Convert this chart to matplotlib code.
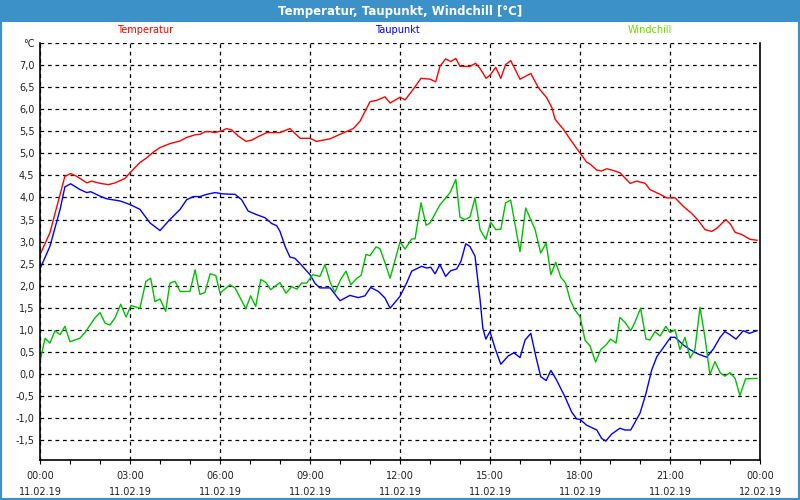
import matplotlib.pyplot as plt
from matplotlib.patches import Rectangle
from matplotlib.ticker import MultipleLocator

# Stunden ab 11.02.19 00:00
temp_h = [0, 0.33, 0.83, 1.02, 1.22, 1.56, 1.72, 2.0, 2.28, 2.5, 2.83, 3.0, 3.33, 3.56, 3.78, 4.0,
          4.33, 4.67, 4.89, 5.17, 5.33, 5.5, 5.67, 5.83, 6.06, 6.22, 6.39, 6.61, 6.87, 7.06, 7.28,
          7.56, 7.78, 8.0, 8.33, 8.67, 9.0, 9.22, 9.67, 10.0, 10.44, 10.67, 11.0, 11.22, 11.5,
          11.67, 12.0, 12.17, 12.44, 12.7, 13.0, 13.19, 13.33, 13.52, 13.69, 13.86, 14.0, 14.33,
          14.52, 14.67, 14.87, 15.0, 15.19, 15.36, 15.52, 15.69, 16.0, 16.36, 16.61, 16.89, 17.06,
          17.17, 17.44, 17.67, 17.89, 18.02, 18.22, 18.33, 18.56, 18.72, 18.89, 19.11, 19.33,
          19.67, 19.89, 20.17, 20.33, 20.67, 20.89, 21.17, 21.44, 21.72, 21.94, 22.17, 22.39,
          22.56, 22.86, 23.02, 23.17, 23.39, 23.67, 23.9]
temp = [2.70, 3.20, 4.48, 4.54, 4.48, 4.33, 4.37, 4.32, 4.29, 4.33, 4.43, 4.56, 4.79, 4.90, 5.03, 5.13,
        5.22, 5.28, 5.36, 5.42, 5.43, 5.49, 5.49, 5.47, 5.51, 5.56, 5.53, 5.39, 5.27, 5.30, 5.38,
        5.47, 5.47, 5.47, 5.56, 5.34, 5.34, 5.27, 5.33, 5.43, 5.56, 5.73, 6.17, 6.20, 6.28,
        6.14, 6.27, 6.21, 6.45, 6.70, 6.68, 6.62, 6.97, 7.14, 7.08, 7.15, 6.97, 6.97,
        7.04, 6.92, 6.70, 6.77, 6.95, 6.70, 7.01, 7.10, 6.68, 6.81, 6.49, 6.26, 6.04,
        5.77, 5.55, 5.32, 5.11, 4.99, 4.80, 4.76, 4.62, 4.60, 4.65, 4.61, 4.56,
        4.32, 4.37, 4.32, 4.18, 4.07, 3.99, 3.99, 3.80, 3.64, 3.48, 3.27, 3.23,
        3.30, 3.50, 3.39, 3.21, 3.16, 3.05, 3.03]

taup_h = [0, 0.33, 0.67, 0.83, 1.02, 1.33, 1.56, 1.69, 2.0, 2.22, 2.67, 3.0, 3.33, 3.67, 4.0, 4.33,
          4.67, 4.89, 5.11, 5.33, 5.56, 5.83, 6.11, 6.5, 6.72, 6.94, 7.22, 7.5, 7.72, 7.89, 8.0,
          8.17, 8.33, 8.5, 8.67, 9.0, 9.17, 9.33, 9.67, 10.0, 10.33, 10.61, 10.83, 11.02, 11.28,
          11.5, 11.67, 12.0, 12.22, 12.39, 12.72, 12.89, 13.02, 13.17, 13.33, 13.52, 13.69, 13.89,
          14.03, 14.19, 14.33, 14.5, 14.67, 14.76, 14.86, 15.0, 15.17, 15.36, 15.61, 15.8, 16.0,
          16.17, 16.36, 16.53, 16.69, 16.87, 17.03, 17.22, 17.5, 17.72, 17.89, 18.0, 18.22, 18.56,
          18.72, 18.86, 19.06, 19.33, 19.5, 19.69, 20.0, 20.2, 20.39, 20.56, 20.78, 21.02, 21.17,
          21.44, 21.67, 21.94, 22.22, 22.44, 22.67, 22.83, 23.0, 23.2, 23.44, 23.64, 23.9]
taup = [2.38, 2.89, 3.73, 4.24, 4.31, 4.18, 4.11, 4.13, 4.03, 3.97, 3.92, 3.84, 3.73, 3.42, 3.25, 3.50,
        3.73, 3.95, 4.02, 4.02, 4.07, 4.11, 4.08, 4.07, 3.95, 3.69, 3.61, 3.54, 3.41, 3.36, 3.23,
        2.89, 2.65, 2.62, 2.50, 2.25, 2.05, 1.95, 1.95, 1.66, 1.78, 1.73, 1.77, 1.96, 1.87,
        1.72, 1.49, 1.76, 2.06, 2.33, 2.44, 2.40, 2.42, 2.27, 2.48, 2.21, 2.34, 2.38,
        2.55, 2.95, 2.89, 2.67, 1.68, 1.04, 0.79, 0.96, 0.58, 0.22, 0.41, 0.48, 0.37,
        0.77, 0.92, 0.39, -0.06, -0.15, 0.08, -0.14, -0.52, -0.86, -1.02, -1.03, -1.16, -1.27,
        -1.46, -1.52, -1.36, -1.23, -1.27, -1.27, -0.89, -0.44, 0.09, 0.39, 0.60, 0.83, 0.83,
        0.66, 0.55, 0.45, 0.38, 0.56, 0.83, 0.96, 0.89, 0.79, 0.98, 0.92, 0.98]

wind_h = [0, 0.17, 0.33, 0.5, 0.67, 0.83, 1.0, 1.33, 1.5, 1.83, 2.0, 2.17, 2.33, 2.5, 2.69, 2.87,
          3.03, 3.33, 3.53, 3.69, 3.83, 4.0, 4.19, 4.33, 4.5, 4.67, 5.0, 5.17, 5.33, 5.5, 5.67,
          5.86, 6.0, 6.33, 6.5, 6.86, 7.02, 7.19, 7.36, 7.52, 7.69, 8.0, 8.2, 8.39, 8.56, 8.72,
          8.89, 9.09, 9.33, 9.5, 9.67, 9.83, 10.02, 10.2, 10.36, 10.56, 10.7, 10.87, 11.0, 11.2,
          11.33, 11.5, 11.67, 12.0, 12.17, 12.39, 12.5, 12.7, 12.87, 13.0, 13.33, 13.67, 13.86,
          14.0, 14.17, 14.33, 14.5, 14.67, 14.86, 15.02, 15.19, 15.36, 15.52, 15.69, 16.0, 16.19,
          16.33, 16.5, 16.69, 16.87, 17.03, 17.19, 17.36, 17.52, 17.67, 17.83, 18.0, 18.17, 18.33,
          18.52, 18.69, 18.87, 19.02, 19.2, 19.33, 19.5, 19.69, 19.83, 20.02, 20.2, 20.33, 20.5,
          20.67, 20.86, 21.0, 21.17, 21.33, 21.5, 21.67, 21.83, 22.0, 22.17, 22.33, 22.5, 22.67,
          22.83, 23.0, 23.17, 23.33, 23.52, 23.9]
wind = [0.28, 0.81, 0.70, 0.98, 0.89, 1.08, 0.73, 0.81, 0.94, 1.27, 1.39, 1.15, 1.11, 1.27, 1.58, 1.29,
        1.55, 1.49, 2.10, 2.17, 1.64, 1.70, 1.42, 2.06, 2.10, 1.87, 1.87, 2.36, 1.80, 1.85, 2.27,
        2.23, 1.83, 2.02, 1.95, 1.48, 1.77, 1.53, 2.14, 2.08, 1.91, 2.07, 1.83, 1.98, 1.92, 2.06,
        2.06, 2.25, 2.21, 2.48, 2.08, 1.85, 2.14, 2.33, 2.02, 2.17, 2.23, 2.71, 2.68, 2.88,
        2.84, 2.52, 2.17, 2.99, 2.83, 3.06, 3.06, 3.88, 3.37, 3.42, 3.83, 4.11, 4.41,
        3.55, 3.50, 3.55, 3.99, 3.27, 3.05, 3.44, 3.27, 3.28, 3.88, 3.94, 2.77, 3.76,
        3.54, 3.28, 2.74, 2.97, 2.25, 2.53, 2.19, 2.06, 1.68, 1.45, 1.30, 0.76, 0.64,
        0.27, 0.55, 0.66, 0.79, 0.70, 1.28, 1.17, 0.98, 1.17, 1.49, 0.79, 0.77, 0.96,
        0.86, 1.08, 0.94, 1.00, 0.55, 0.83, 0.36, 0.55, 1.51, 0.81, -0.01, 0.28, 0.03,
        -0.05, 0.03, -0.10, -0.49, -0.11, -0.10]

x_ticks = [0, 3, 6, 9, 12, 15, 18, 21, 24]
x_labels = ["00:00\n11.02.19", "03:00\n11.02.19", "06:00\n11.02.19", "09:00\n11.02.19",
            "12:00\n11.02.19", "15:00\n11.02.19", "18:00\n11.02.19", "21:00\n11.02.19",
            "00:00\n12.02.19"]
y_ticks = [-1.5, -1.0, -0.5, 0.0, 0.5, 1.0, 1.5, 2.0, 2.5, 3.0, 3.5, 4.0, 4.5, 5.0, 5.5, 6.0, 6.5, 7.0, 7.5]

blue_frame = '#3c92c8'

fig = plt.figure(figsize=(8, 5), dpi=100)
fig.patch.set_facecolor('white')
fig.patches.append(Rectangle((0, 0), 1, 1, transform=fig.transFigure, fill=False,
                             edgecolor=blue_frame, linewidth=3, zorder=0))
fig.patches.append(Rectangle((0, 1 - 22 / 500), 1, 22 / 500, transform=fig.transFigure,
                             facecolor=blue_frame, edgecolor='none', zorder=1))
fig.text(0.5, 1 - 11 / 500, "Temperatur, Taupunkt, Windchill [°C]", color='white',
         fontsize=8.5, fontweight='bold', ha='center', va='center')

fig.text(145 / 800, 1 - 30 / 500, "Temperatur", color='#ff0000', fontsize=7, ha='center', va='center')
fig.text(397 / 800, 1 - 30 / 500, "Taupunkt", color='#0000ff', fontsize=7, ha='center', va='center')
fig.text(650 / 800, 1 - 30 / 500, "Windchill", color='#70d800', fontsize=7, ha='center', va='center')

ax = fig.add_axes([40 / 800, 1 - 460 / 500, 720 / 800, 417 / 500])
ax.plot(temp_h, temp, color='#ff0000', linewidth=1)
ax.plot(taup_h, taup, color='#0000ff', linewidth=1)
ax.plot(wind_h, wind, color='#00c000', linewidth=1)

ax.set_xlim(0, 24)
ax.set_ylim(-1.95, 7.5)
ax.set_xticks(x_ticks)
ax.set_xticklabels(x_labels, fontsize=7, color='#222222', linespacing=1.75)
ax.xaxis.set_minor_locator(MultipleLocator(1))
ax.set_yticks(y_ticks)
ax.set_yticklabels(["°C" if v == 7.5 else ("%.1f" % v).replace('.', ',') for v in y_ticks],
                   fontsize=7, color='#222222')
ax.tick_params(axis='x', which='both', direction='out', length=3, width=0.8, pad=5)
ax.tick_params(axis='y', length=0, pad=4)
ax.grid(True, color='black', linestyle=(0, (3, 3)), linewidth=0.9)
ax.spines['top'].set_visible(False)
for s in ['left', 'bottom', 'right']:
    ax.spines[s].set_linewidth(1.2)

fig.savefig('out.png', dpi=100)
